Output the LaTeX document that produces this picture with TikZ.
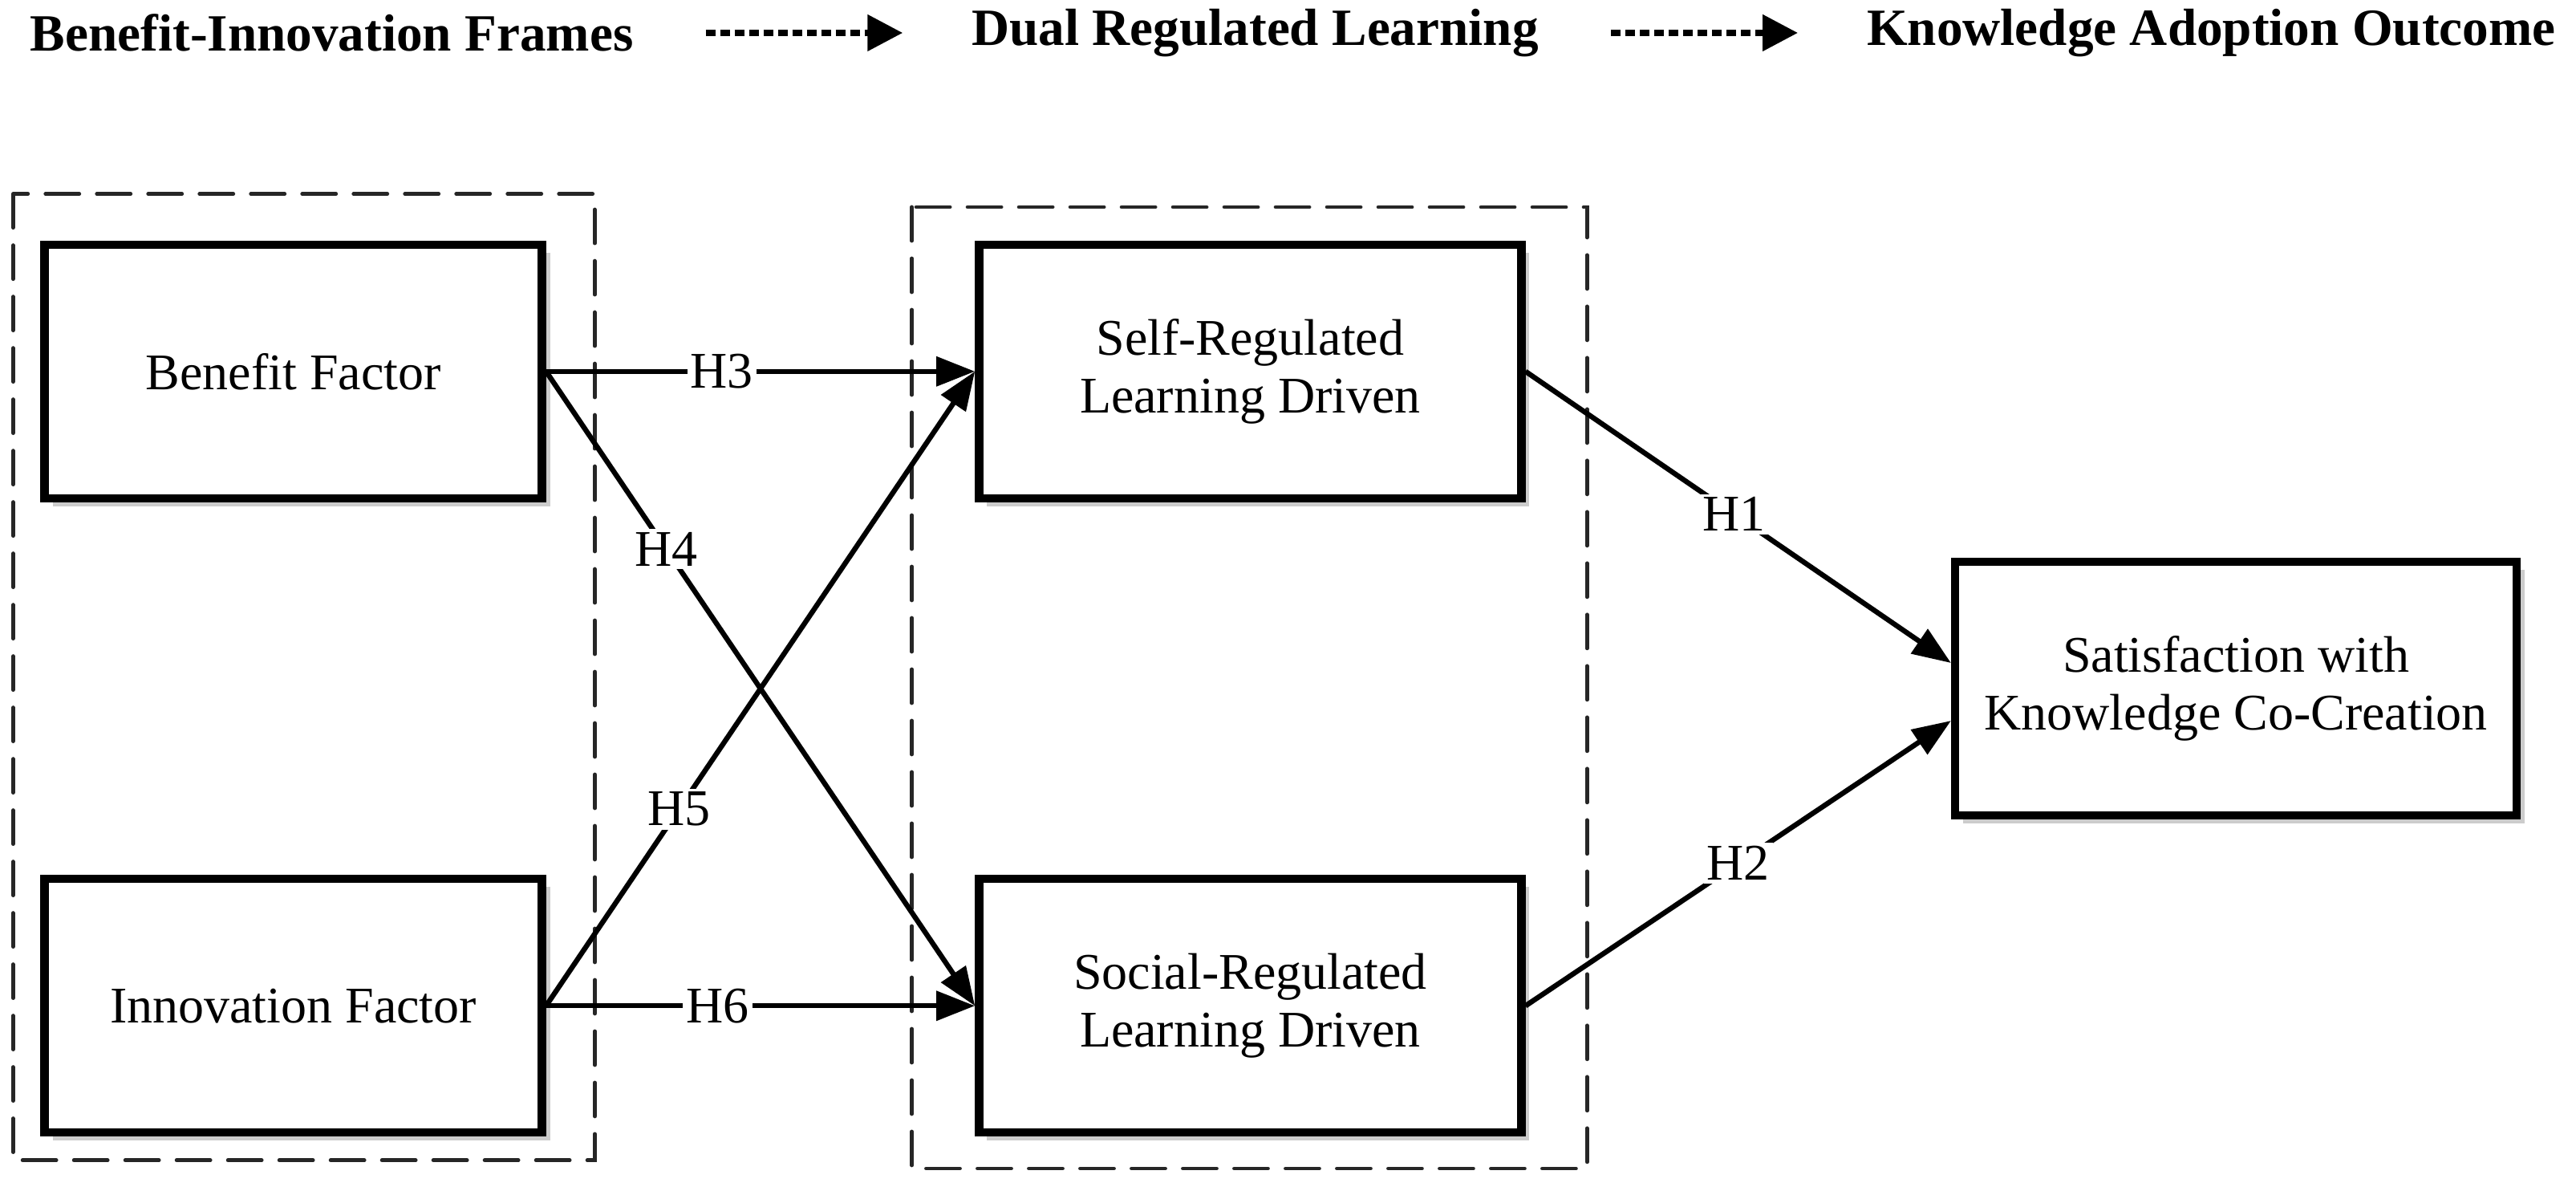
\documentclass[tikz,border=0pt]{standalone}
\usepackage{fontspec}
\setmainfont{Liberation Serif}
\usetikzlibrary{arrows.meta,shadows}

\tikzset{
  factor/.style={draw, line width=2.6pt, fill=white, align=center,
    minimum height=79pt, font=\fontsize{16}{18}\selectfont,
    drop shadow={shadow xshift=2.5pt, shadow yshift=-2.5pt, opacity=0.2, fill=black}},
  frame/.style={draw=black!85, line width=1.2pt, dash pattern=on 10.5pt off 5.5pt, line cap=round},
  path/.style={line width=1.6pt, -{Triangle[length=12pt,width=9pt]}},
  hyp/.style={fill=white, inner sep=1pt, font=\fontsize{16}{18}\selectfont},
  stage/.style={font=\fontsize{16.3}{18}\selectfont\bfseries},
  flow/.style={line width=2pt, dash pattern=on 3pt off 1.5pt,
    -{Triangle[length=11pt,width=11pt]}, shorten <=19pt, shorten >=18pt}
}

\begin{document}
\begin{tikzpicture}[x=0.512pt, y=-0.512pt]
  \useasboundingbox (0,0) rectangle (1568,727);

  % stages on top
  \node[stage] (frames) at (202,20) {Benefit-Innovation Frames};
  \node[stage] (dual) at (764,20) {Dual Regulated Learning};
  \node[stage] (outcome) at (1346,20) {Knowledge Adoption Outcome};
  \draw[flow] (frames) -- (dual);
  \draw[flow] (dual) -- (outcome);

  % dashed groups
  \draw[frame] (8,118) rectangle (362,706); % left
  \draw[frame] (555,126) rectangle (966,711); % middle

  \node[factor, minimum width=155pt] (benefit) at (178.5,226) {Benefit Factor};
  \node[factor, minimum width=155pt] (innovation) at (178.5,612) {Innovation Factor};
  \node[factor, minimum width=169pt] (self) at (761,226) {Self-Regulated\\Learning Driven};
  \node[factor, minimum width=169pt] (social) at (761,612) {Social-Regulated\\Learning Driven};
  \node[factor, minimum width=175pt] (sat) at (1361,419) {Satisfaction with\\Knowledge Co-Creation};

  \draw[path] (benefit.east) -- node[hyp, pos=0.41] {H3} (self.west);
  \draw[path] (benefit.east) -- node[hyp, pos=0.28] {H4} (social.west);
  \draw[path] (innovation.east) -- node[hyp, pos=0.31] {H5} (self.west);
  \draw[path] (innovation.east) -- node[hyp, pos=0.40] {H6} (social.west);
  \draw[path] (self.east) -- node[hyp, pos=0.49] {H1} ([yshift=8pt]sat.west);
  \draw[path] (social.east) -- node[hyp, pos=0.50] {H2} ([yshift=-10pt]sat.west);

\end{tikzpicture}
\end{document}
